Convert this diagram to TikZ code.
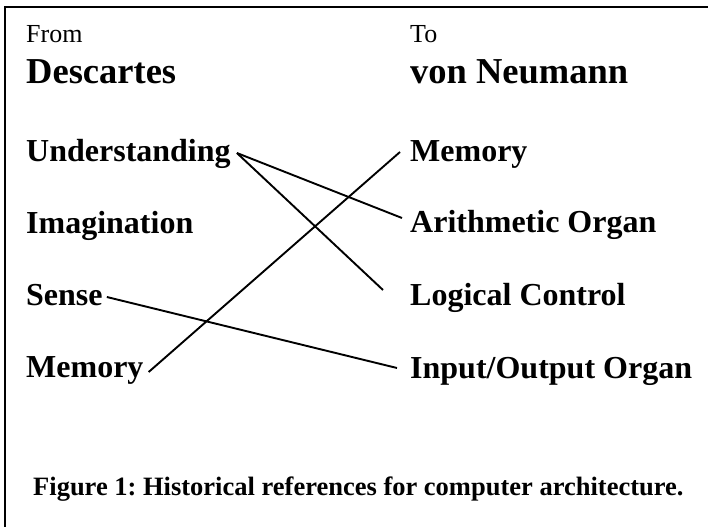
\documentclass[tikz,border=0pt]{standalone}
\usepackage{fontspec}
\setmainfont{Liberation Serif}
\usetikzlibrary{calc}
\frenchspacing
\begin{document}
\begin{tikzpicture}[x=1pt,y=-1pt,
  lbl/.style={anchor=base west,inner sep=0pt,font=\fontsize{26}{30}\selectfont},
  head/.style={anchor=base west,inner sep=0pt,font=\fontsize{36.5}{40}\selectfont\bfseries},
  item/.style={anchor=base west,inner sep=0pt,font=\fontsize{32}{36}\selectfont\bfseries},
  caption/.style={anchor=base west,inner sep=0pt,font=\fontsize{26.5}{30}\selectfont\bfseries},
  link/.style={line width=1.9pt},
  frame/.style={line width=2.5pt}]
\useasboundingbox (0,0) rectangle (708,527);
% open frame: top and left rules only
\draw[frame] (708,7) -- (5,7) -- (5,527);

% column headings
\node[lbl]  (from)  at (26,43)  {From};
\node[head] (desc)  at (26,83)  {Descartes};
\node[lbl]  (to)    at (410,43) {To};
\node[head] (vonn)  at (410,83) {von Neumann};

% Descartes' faculties
\node[item] (und)   at (26,161) {Understanding};
\node[item] (imag)  at (26,233) {Imagination};
\node[item] (sense) at (26,305) {Sense};
\node[item] (meml)  at (26,377) {Memory};

% von Neumann's organs
\node[item] (memr)  at (410,161) {Memory};
\node[item] (arith) at (410,232) {Arithmetic Organ};
\node[item] (logic) at (410,305) {Logical Control};
\node[item] (io)    at (410,378) {Input/Output Organ};

% caption
\node[caption] (cap) at (33,495) {Figure 1: Historical references for computer architecture.};

% connector end points
\coordinate (und-o)   at ($(und.base east)+(6,-8)$);
\coordinate (sense-o) at ($(sense.base east)+(4,-8)$);
\coordinate (meml-o)  at ($(meml.base east)+(5,-5)$);
\coordinate (memr-i)  at ($(memr.base west)+(-10,-9)$);
\coordinate (arith-i) at ($(arith.base west)+(-8,-14)$);
\coordinate (logic-i) at ($(logic.base west)+(-27,-15)$);
\coordinate (io-i)    at ($(io.base west)+(-13,-10)$);

% correspondences
\draw[link] (und-o) -- (arith-i);
\draw[link] (und-o) -- (logic-i);
\draw[link] (meml-o) -- (memr-i);
\draw[link] (sense-o) -- (io-i);
\end{tikzpicture}
\end{document}
